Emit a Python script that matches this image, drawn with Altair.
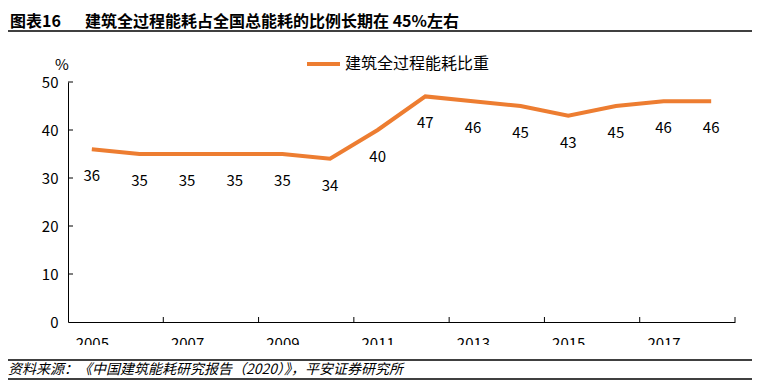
import altair as alt
import pandas as pd

years = [2005, 2006, 2007, 2008, 2009, 2010, 2011, 2012, 2013, 2014, 2015, 2016, 2017, 2018]
shares = [36, 35, 35, 35, 35, 34, 40, 47, 46, 45, 43, 45, 46, 46]
label_years = [2005, 2007, 2009, 2011, 2013, 2015, 2017]
tick_bounds = [2006.5, 2008.5, 2010.5, 2012.5, 2014.5, 2016.5, 2018.5]
y_ticks = [10, 20, 30, 40, 50]
series_name = "建筑全过程能耗比重"
title_no = "图表16"
title_text = "建筑全过程能耗占全国总能耗的比例长期在 45%左右"
source_text = "资料来源：《中国建筑能耗研究报告（2020）》，平安证券研究所"

FONT = "Noto Sans CJK SC"
ORANGE = "#ED7D31"
W, H = 667, 240

df = pd.DataFrame({"year": years, "share": shares})
xb = pd.DataFrame({"b": tick_bounds})
yb = pd.DataFrame({"v": y_ticks})
dummy = pd.DataFrame({"a": [0]})

xscale = alt.Scale(domain=[2004.5, 2018.5], nice=False, zero=False)
yscale = alt.Scale(domain=[0, 50], nice=False)

base = alt.Chart(df)

line = base.mark_line(color=ORANGE, strokeWidth=4).encode(
    x=alt.X("year:Q", scale=xscale,
            axis=alt.Axis(values=label_years, format="d", title=None, ticks=False,
                          labelPadding=14, labelFontSize=15, labelFont=FONT,
                          labelColor="#000", domainColor="#000", domainWidth=1,
                          grid=False, labelFlush=False)),
    y=alt.Y("share:Q", scale=yscale,
            axis=alt.Axis(values=[0, 10, 20, 30, 40, 50], title=None, ticks=False,
                          labelPadding=10, labelFontSize=15, labelFont=FONT,
                          labelColor="#000", domainColor="#000", domainWidth=1,
                          grid=False)),
)

labels = base.mark_text(font=FONT, fontSize=15, color="#000", dy=27, baseline="middle").encode(
    x=alt.X("year:Q", scale=xscale),
    y=alt.Y("share:Q", scale=yscale),
    text=alt.Text("share:Q"),
)

xticks = alt.Chart(xb).mark_rule(color="#000", strokeWidth=1).encode(
    x=alt.X("b:Q", scale=xscale),
    y=alt.value(H - 5), y2=alt.value(H),
)

yticks = alt.Chart(yb).mark_rule(color="#000", strokeWidth=1).encode(
    y=alt.Y("v:Q", scale=yscale),
    x=alt.value(0), x2=alt.value(5),
)

cover = alt.Chart(dummy).mark_rect(color="white").encode(
    x=alt.value(-60), x2=alt.value(690), y=alt.value(263), y2=alt.value(277),
)

def rule(x1, x2, y, w=1.5):
    return alt.Chart(dummy).mark_rule(color="#000", strokeWidth=w).encode(
        x=alt.value(x1), x2=alt.value(x2), y=alt.value(y))

def text(t, x, y, size, weight="normal", style="normal", align="left", baseline="middle"):
    return alt.Chart(dummy).mark_text(text=t, font=FONT, fontSize=size, fontWeight=weight,
                                      fontStyle=style, align=align, baseline=baseline,
                                      color="#000").encode(
        x=alt.value(x), y=alt.value(y))

legend_line = alt.Chart(dummy).mark_rule(color=ORANGE, strokeWidth=4).encode(
    x=alt.value(239), x2=alt.value(272), y=alt.value(-18))

chart = alt.layer(
    line, labels, xticks, yticks, cover,
    rule(-60, 684, -51),
    rule(-60, 684, 278),
    rule(-60, 684, 297),
    text(title_no, -58, -55, 16, weight="bold", baseline="alphabetic"),
    text(title_text, 17, -55, 16, weight="bold", baseline="alphabetic"),
    text(source_text, -60, 288, 14, style="italic"),
    text("%", -6, -17, 15, align="center"),
    legend_line,
    text(series_name, 277, -18, 16),
).properties(
    width=W, height=H,
    autosize=alt.AutoSizeParams(type="none"),
    padding={"left": 60, "top": 74, "right": 28, "bottom": 60},
    background="white",
).configure_view(stroke=None)

chart.save("out.html", embed_options={"renderer": "svg", "actions": False})
